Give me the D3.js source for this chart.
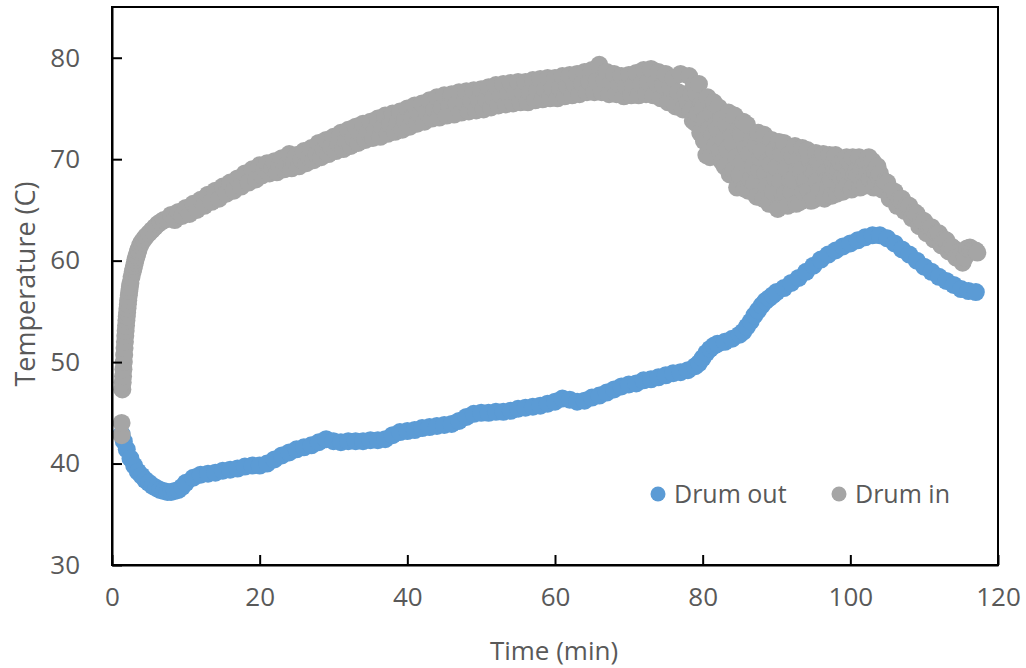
<!DOCTYPE html>
<html>
<head>
<meta charset="utf-8">
<script src="https://cdn.jsdelivr.net/npm/d3@7"></script>
<style>
  body { margin: 0; background: #fff; }
  svg { display: block; font-family: "Open Sans", sans-serif; }
</style>
</head>
<body>
<svg id="chart" width="1026" height="668"></svg>
<script>
// values: [time (min), temperature (C)]
const drumOut = [
  [1.3, 42.9], [1.6, 42.2], [2.0, 41.4], [2.5, 40.5], [3.0, 39.8], [3.5, 39.2], [4.0, 38.8],
  [4.5, 38.4], [5, 38.1], [5.5, 37.8], [6, 37.6], [6.5, 37.4], [7, 37.3], [7.5, 37.2], [8, 37.2],
  [8.5, 37.3], [9, 37.4], [9.5, 37.7], [10, 38.1], [11, 38.6], [12, 38.9], [13, 39.0], [14, 39.1],
  [15, 39.3], [16, 39.4], [17, 39.5], [18, 39.7], [19, 39.8], [20, 39.8], [21, 40.0], [22, 40.4],
  [23, 40.8], [24, 41.1], [25, 41.4], [26, 41.6], [27, 41.8], [28, 42.1], [29, 42.4], [30, 42.2],
  [31, 42.1], [32, 42.2], [33, 42.2], [34, 42.2], [35, 42.3], [36, 42.3], [37, 42.4], [38, 42.8],
  [39, 43.1], [40, 43.2], [41, 43.3], [42, 43.5], [43, 43.6], [44, 43.7], [45, 43.8], [46, 43.9],
  [47, 44.2], [48, 44.6], [49, 44.9], [50, 45.0], [51, 45.0], [52, 45.1], [53, 45.1], [54, 45.2],
  [55, 45.4], [56, 45.5], [57, 45.6], [58, 45.7], [59, 45.9], [60, 46.1], [61, 46.4], [62, 46.3],
  [63, 46.1], [64, 46.2], [65, 46.5], [66, 46.7], [67, 47.0], [68, 47.3], [69, 47.6], [70, 47.8],
  [71, 47.9], [72, 48.2], [73, 48.3], [74, 48.5], [75, 48.7], [76, 48.9], [77, 49.0], [78, 49.2],
  [79, 49.6], [79.5, 49.9], [80, 50.4], [80.5, 50.9], [81, 51.3], [81.5, 51.6], [82, 51.8], [83, 52.0],
  [84, 52.3], [85, 52.7], [85.5, 53.0], [86, 53.5], [86.5, 54.0], [87, 54.6], [87.5, 55.1], [88, 55.6],
  [88.5, 56.0], [89, 56.3], [89.5, 56.6], [90, 56.9], [91, 57.3], [92, 57.8], [93, 58.3], [94, 58.9],
  [95, 59.5], [96, 60.1], [97, 60.6], [98, 61.0], [99, 61.4], [100, 61.7], [101, 62.0], [102, 62.3],
  [103, 62.5], [104, 62.5], [105, 62.2], [106, 61.7], [107, 61.1], [108, 60.6], [109, 60.0],
  [110, 59.4], [111, 58.9], [112, 58.4], [113, 58.0], [114, 57.6], [115, 57.2], [116, 57.0], [117, 56.9]
];

const drumIn = [
  [1.3, 42.8], [1.3, 44.0], [1.4, 47.3], [1.45, 48.0], [1.5, 48.6], [1.55, 49.3], [1.6, 50.0],
  [1.65, 50.7], [1.7, 51.4], [1.75, 52.0], [1.8, 52.6], [1.85, 53.1], [1.9, 53.6], [1.95, 54.1],
  [2.0, 54.5], [2.05, 54.9], [2.1, 55.3], [2.15, 55.7], [2.2, 56.1], [2.28, 56.6], [2.35, 57.0],
  [2.42, 57.4], [2.5, 57.8], [2.65, 58.4], [2.8, 58.9], [2.9, 59.2], [3.0, 59.5], [3.1, 59.8],
  [3.2, 60.1], [3.3, 60.4], [3.4, 60.6], [3.5, 60.9], [3.6, 61.1], [3.8, 61.5], [4.0, 61.8],
  [4.3, 62.1], [4.6, 62.4], [5.0, 62.7], [5.4, 63.0], [5.8, 63.3], [6.2, 63.6], [6.6, 63.8],
  [7.0, 64.0], [7.5, 64.1],
  [8, 64.5], [8.5, 64.0], [9, 64.8], [9.5, 64.4], [10, 65.2], [10.5, 64.6], [11, 65.6], [11.5, 65.0],
  [12, 66.0], [12.5, 65.4], [13, 66.5], [13.5, 65.8], [14, 66.9], [14.5, 66.1], [15, 67.3], [15.5, 66.6],
  [16, 67.7], [16.5, 66.9], [17, 68.1], [17.5, 67.3], [18, 68.6], [18.5, 67.7], [19, 69.0], [19.5, 68.0],
  [20, 69.4], [20.33, 68.4], [20.67, 69.0], [21, 69.6], [21.33, 68.6], [21.67, 69.1],
  [22, 69.8], [22.33, 68.7], [22.67, 69.3], [23, 70.1], [23.33, 69.0], [23.67, 69.5],
  [24, 70.5], [24.33, 69.1], [24.67, 69.8], [25, 70.4], [25.33, 69.3], [25.67, 69.9],
  [26, 70.8], [26.33, 69.6], [26.67, 70.2], [27, 71.1], [27.33, 69.9], [27.67, 70.5],
  [28, 71.6], [28.33, 70.2], [28.67, 70.9], [29, 71.9], [29.33, 70.5], [29.67, 71.2],
  [30, 72.2], [30.33, 70.8], [30.67, 71.5], [31, 72.6], [31.33, 71.0], [31.67, 71.8],
  [32, 72.9], [32.33, 71.3], [32.67, 72.1], [33, 73.2], [33.33, 71.6], [33.67, 72.5],
  [34, 73.5], [34.33, 71.9], [34.67, 72.7], [35, 73.7], [35.33, 72.1], [35.67, 72.9],
  [36, 74.0], [36.33, 72.2], [36.67, 73.1], [37, 74.3], [37.33, 72.5], [37.67, 73.4],
  [38, 74.5], [38.33, 72.7], [38.67, 73.6], [39, 74.7], [39.33, 72.9], [39.67, 73.8],
  [40, 75.0], [40.33, 73.2], [40.67, 74.1], [41, 75.3], [41.33, 73.5], [41.67, 74.4],
  [42, 75.5], [42.33, 73.7], [42.67, 74.6], [43, 75.8], [43.33, 74.0], [43.67, 74.9],
  [44, 76.1], [44.33, 74.1], [44.67, 75.1], [45, 76.3], [45.33, 74.3], [45.67, 75.3],
  [46, 76.4], [46.33, 74.4], [46.67, 75.4], [47, 76.6], [47.33, 74.6], [47.67, 75.6],
  [48, 76.7], [48.33, 74.7], [48.67, 75.7], [49, 76.8], [49.33, 74.8], [49.67, 75.8],
  [50, 76.9], [50.33, 74.9], [50.67, 75.9], [51, 77.1], [51.33, 75.1], [51.67, 76.1],
  [52, 77.3], [52.33, 75.3], [52.67, 76.3], [53, 77.4], [53.33, 75.4], [53.67, 76.4],
  [54, 77.5], [54.33, 75.5], [54.67, 76.5], [55, 77.6], [55.33, 75.6], [55.67, 76.6],
  [56, 77.6], [56.33, 75.6], [56.67, 76.6], [57, 77.8], [57.33, 75.8], [57.67, 76.8],
  [58, 77.9], [58.33, 75.9], [58.67, 76.9], [59, 78.0], [59.33, 76.0], [59.67, 77.0],
  [60, 78.0], [60.33, 76.0], [60.67, 77.0], [61, 78.2], [61.33, 76.2], [61.67, 77.2],
  [62, 78.3], [62.33, 76.3], [62.67, 77.3], [63, 78.4], [63.33, 76.4], [63.67, 77.4],
  [64, 78.6], [64.33, 76.6], [64.67, 77.6], [65, 78.8], [65.33, 76.6], [65.67, 77.7],
  [66, 79.3], [66.33, 76.6], [66.67, 77.8], [67, 78.6], [67.33, 76.4], [67.67, 77.5],
  [68, 78.4], [68.33, 76.4], [68.67, 77.4], [69, 78.2], [69.33, 76.2], [69.67, 77.2],
  [70, 78.3], [70.33, 76.3], [70.67, 77.3], [71, 78.5], [71.33, 76.3], [71.67, 77.4],
  [72, 78.8], [72.33, 76.4], [72.67, 77.6], [73, 78.9], [73.33, 76.3], [73.67, 77.6],
  [74, 78.6], [74.33, 76.0], [74.67, 77.3], [75, 78.4], [75.33, 75.6], [75.67, 77.0],
  [76, 78.0], [76.33, 75.2], [76.67, 76.6], [77, 78.4], [77.33, 74.9], [77.67, 76.4],
  [78, 75.6], [78.17, 78.2], [78.33, 74.7], [78.5, 76.4], [78.67, 73.8], [78.83, 77.3],
  [79, 73.6], [79.17, 76.4], [79.33, 74.5], [79.5, 77.4], [79.67, 72.6], [79.83, 75.5],
  [80, 75.0], [80.17, 71.8], [80.33, 73.9], [80.5, 70.4], [80.67, 76.1], [80.83, 72.9],
  [81, 70.2], [81.17, 74.5], [81.33, 72.4], [81.5, 75.6], [81.67, 71.3], [81.83, 73.4],
  [82, 72.9], [82.17, 75.1], [82.33, 70.8], [82.5, 73.9], [82.67, 69.7], [82.83, 71.9],
  [83, 69.3], [83.17, 73.5], [83.33, 71.0], [83.5, 74.6], [83.67, 68.5], [83.83, 72.2],
  [84, 71.6], [84.17, 68.9], [84.33, 74.3], [84.5, 70.2], [84.67, 67.2], [84.83, 72.9],
  [85, 68.4], [85.17, 72.4], [85.33, 69.7], [85.5, 73.7], [85.67, 67.1], [85.83, 71.1],
  [86, 73.4], [86.17, 66.9], [86.33, 70.5], [86.5, 68.0], [86.67, 71.8], [86.83, 69.3],
  [87, 67.6], [87.17, 71.4], [87.33, 66.3], [87.5, 72.6], [87.67, 68.9], [87.83, 70.1],
  [88, 70.8], [88.17, 66.1], [88.33, 72.4], [88.5, 68.6], [88.67, 67.3], [88.83, 69.8],
  [89, 65.6], [89.17, 69.5], [89.33, 71.9], [89.5, 66.8], [89.67, 70.8], [89.83, 68.1],
  [90, 69.2], [90.17, 65.1], [90.33, 71.7], [90.5, 67.8], [90.67, 70.5], [90.83, 66.5],
  [91, 71.6], [91.17, 66.6], [91.33, 69.1], [91.5, 65.4], [91.67, 70.4], [91.83, 67.9],
  [92, 66.8], [92.17, 70.2], [92.33, 67.9], [92.5, 71.3], [92.67, 65.6], [92.83, 69.1],
  [93, 70.0], [93.17, 65.8], [93.33, 68.9], [93.5, 71.1], [93.67, 66.8], [93.83, 67.9],
  [94, 67.9], [94.17, 70.9], [94.33, 66.9], [94.5, 69.9], [94.67, 65.9], [94.83, 68.9],
  [95, 66.0], [95.17, 68.8], [95.33, 70.6], [95.5, 67.8], [95.67, 69.7], [95.83, 66.9],
  [96, 69.6], [96.17, 67.0], [96.33, 70.5], [96.5, 66.1], [96.67, 68.7], [96.83, 67.9],
  [97, 67.2], [97.17, 70.4], [97.33, 68.0], [97.5, 66.4], [97.67, 69.6], [97.83, 68.8],
  [98, 70.4], [98.17, 66.6], [98.33, 68.9], [98.5, 67.4], [98.67, 69.6], [98.83, 68.1],
  [99, 66.8], [99.17, 69.5], [99.33, 68.2], [99.5, 70.2], [99.67, 67.5], [99.83, 68.8],
  [100, 69.6], [100.17, 67.0], [100.33, 70.2], [100.5, 68.3], [100.67, 67.6], [100.83, 68.9],
  [101, 68.4], [101.17, 70.2], [101.33, 67.2], [101.5, 69.0], [101.67, 67.8], [101.83, 69.6],
  [102, 67.4], [102.17, 69.6], [102.33, 68.5], [102.5, 70.2], [102.67, 68.0], [102.83, 69.1],
  [103, 69.8], [103.17, 67.2], [103.33, 68.8], [103.5, 67.7], [103.67, 69.3], [103.83, 68.2],
  [104, 68.6], [104.33, 67.0], [104.67, 67.8], [105, 67.7], [105.33, 66.1], [105.67, 66.9],
  [106, 66.8], [106.33, 65.4], [106.67, 66.1], [107, 66.1], [107.33, 64.9], [107.67, 65.5],
  [108, 65.4], [108.33, 64.2], [108.67, 64.8], [109, 64.6], [109.33, 63.4], [109.67, 64.0],
  [110, 63.9], [110.33, 62.7], [110.67, 63.3], [111, 63.3], [111.33, 62.1], [111.67, 62.7],
  [112, 62.7], [112.33, 61.5], [112.67, 62.1], [113, 62.0], [113.33, 60.9], [113.67, 61.4],
  [114, 61.2], [114.33, 60.3], [114.67, 60.8], [115, 60.5], [115.2, 59.8], [115.5, 60.3],
  [115.8, 61.2], [116.2, 61.3], [116.5, 61.0], [117.0, 61.0], [117.2, 60.8]
];

const xTicks = [0, 20, 40, 60, 80, 100, 120];
const yTicks = [30, 40, 50, 60, 70, 80];
const seriesNames = ["Drum out", "Drum in"];
const seriesColors = ["#5B9BD5", "#A5A5A5"];

const svg = d3.select("#chart");
const plotLeft = 112, plotTop = 7, plotRight = 998, plotBottom = 565;
const markerR = 9;
const textColor = "#595959";

const x = d3.scaleLinear().domain([0, 120]).range([plotLeft, plotRight]);
const y = d3.scaleLinear().domain([30, 85]).range([plotBottom, plotTop]);

// frame
svg.append("rect")
  .attr("x", plotLeft).attr("y", plotTop)
  .attr("width", plotRight - plotLeft).attr("height", plotBottom - plotTop)
  .attr("fill", "none").attr("stroke", "#000").attr("stroke-width", 2);

// points
const plot = svg.append("g");
[drumOut, drumIn].forEach((series, i) => {
  plot.append("g").selectAll("circle")
    .data(series)
    .join("circle")
    .attr("cx", d => x(d[0]))
    .attr("cy", d => y(d[1]))
    .attr("r", markerR)
    .attr("fill", seriesColors[i]);
});

// axes, ticks pointing inward
const xAxis = svg.append("g")
  .attr("transform", `translate(0,${plotBottom})`)
  .call(d3.axisBottom(x).tickValues(xTicks).tickSize(-10).tickPadding(23).tickSizeOuter(0));
const yAxis = svg.append("g")
  .attr("transform", `translate(${plotLeft},0)`)
  .call(d3.axisLeft(y).tickValues(yTicks).tickSize(-10).tickPadding(32).tickSizeOuter(0));

[xAxis, yAxis].forEach(g => {
  g.select(".domain").attr("stroke", "#000").attr("stroke-width", 2);
  g.selectAll(".tick line").attr("stroke", "#000").attr("stroke-width", 2);
  g.selectAll(".tick text")
    .attr("fill", textColor)
    .style("font-family", "'Open Sans', sans-serif")
    .style("font-size", "26px");
});

// axis titles
svg.append("text")
  .attr("x", (plotLeft + plotRight) / 2 - 1)
  .attr("y", 660)
  .attr("text-anchor", "middle")
  .attr("fill", textColor)
  .style("font-size", "26px")
  .text("Time (min)");

svg.append("text")
  .attr("transform", `translate(35,${(plotTop + plotBottom) / 2 - 2}) rotate(-90)`)
  .attr("text-anchor", "middle")
  .attr("fill", textColor)
  .style("font-size", "27px")
  .text("Temperature (C)");

// legend
const legendX = [658, 839];
const legend = svg.append("g");
seriesNames.forEach((name, i) => {
  legend.append("circle")
    .attr("cx", legendX[i]).attr("cy", 494).attr("r", 7.5)
    .attr("fill", seriesColors[i]);
  legend.append("text")
    .attr("x", legendX[i] + 16).attr("y", 494)
    .attr("dy", "0.35em")
    .attr("fill", textColor)
    .style("font-size", "25px")
    .text(name);
});
</script>
</body>
</html>
